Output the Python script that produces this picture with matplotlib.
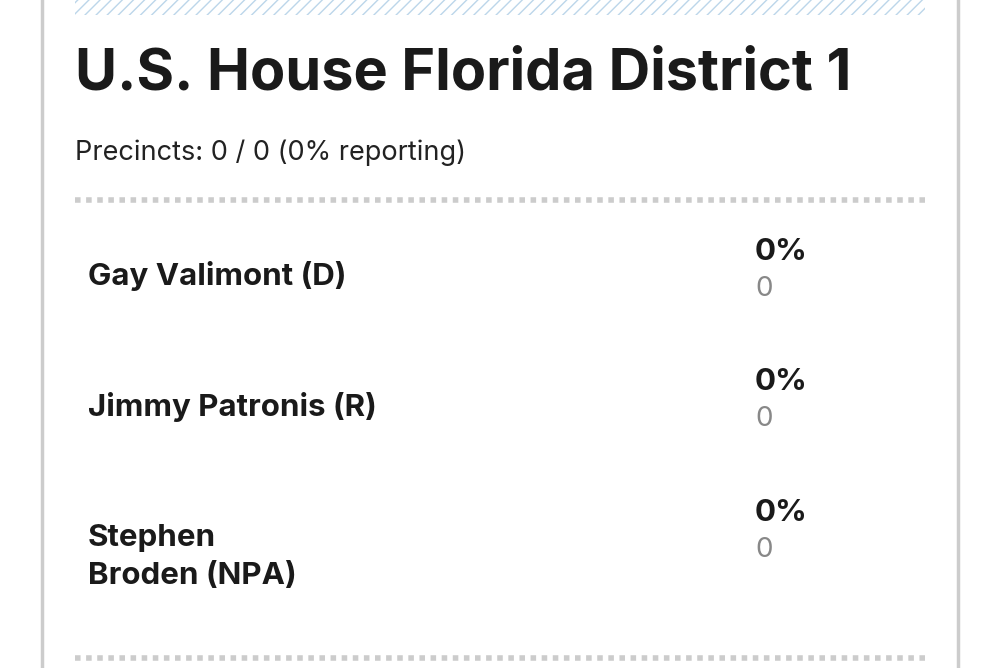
import matplotlib
matplotlib.use("Agg")
import matplotlib.pyplot as plt
from matplotlib.patches import Rectangle

title = "U.S. House Florida District 1"
precincts = "Precincts: 0 / 0 (0% reporting)"
candidates = ["Gay Valimont (D)", "Jimmy Patronis (R)", "Stephen\nBroden (NPA)"]
percents = ["0%", "0%", "0%"]
votes = ["0", "0", "0"]

fig = plt.figure(figsize=(10, 6.68), dpi=100)
ax = fig.add_axes([0, 0, 1, 1])
ax.set_xlim(0, 1000); ax.set_ylim(668, 0); ax.axis("off")
F = ["Inter", "Lato", "DejaVu Sans"]

# card borders
ax.plot([42, 42], [0, 668], color="#cccccc", lw=2.5)
ax.plot([958, 958], [0, 668], color="#cccccc", lw=2.5)
# hatch band
ax.add_patch(Rectangle((75, 0), 850, 15, facecolor="white", edgecolor="#bcd6ea", hatch="///", lw=0))

ax.text(75, 74, title, fontsize=41.5, fontweight="bold", family=F, color="#1a1a1a", va="center")
ax.text(75, 153, precincts, fontsize=19.5, family=F, color="#222222", va="center")
for y in (200, 658):
    ax.plot([75, 925], [y, y], color="#cccccc", lw=4, ls=(0, (1, 1)))

rows = [276, 407, 557]
prow = [252, 382, 513]
for c, p, v, y, py in zip(candidates, percents, votes, rows, prow):
    ax.text(88, y, c, fontsize=22.5, fontweight="bold", family=F, color="#1a1a1a", va="center", linespacing=1.45)
    ax.text(755, py, p, fontsize=22.5, fontweight="bold", family=F, color="#1a1a1a", va="center")
    ax.text(755, py + 37, v, fontsize=20, family=F, color="#888888", va="center")

fig.savefig("out.png", dpi=100)
